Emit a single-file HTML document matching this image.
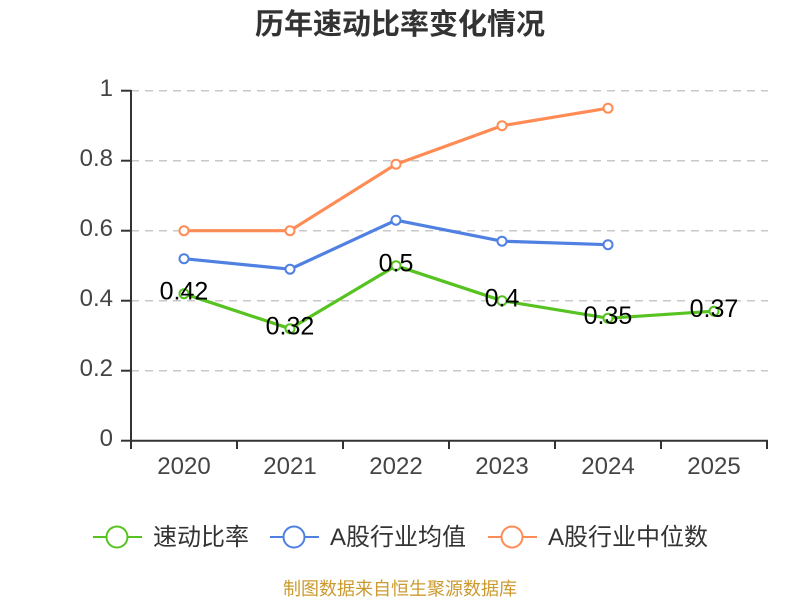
<!DOCTYPE html>
<html><head><meta charset="utf-8"><style>
html,body{margin:0;padding:0;background:#fff;}
svg{display:block;}
</style></head><body>
<svg width="800" height="600" viewBox="0 0 800 600" xmlns="http://www.w3.org/2000/svg">
<rect width="800" height="600" fill="#fff"/>
<text x="400" y="34" text-anchor="middle" font-family="Liberation Sans, Noto Sans CJK SC, sans-serif" font-size="29" font-weight="bold" fill="#333">历年速动比率变化情况</text>
<g stroke="#c8c8c8" stroke-width="1.5" stroke-dasharray="8 6">
<line x1="131" y1="90.7" x2="768" y2="90.7"/>
<line x1="131" y1="160.7" x2="768" y2="160.7"/>
<line x1="131" y1="230.7" x2="768" y2="230.7"/>
<line x1="131" y1="300.7" x2="768" y2="300.7"/>
<line x1="131" y1="370.7" x2="768" y2="370.7"/>
</g>
<g stroke="#333" stroke-width="2">
<line x1="131" y1="90" x2="131" y2="441"/>
<line x1="130" y1="440.7" x2="768" y2="440.7"/>
<line x1="121" y1="90.7" x2="131" y2="90.7"/>
<line x1="121" y1="160.7" x2="131" y2="160.7"/>
<line x1="121" y1="230.7" x2="131" y2="230.7"/>
<line x1="121" y1="300.7" x2="131" y2="300.7"/>
<line x1="121" y1="370.7" x2="131" y2="370.7"/>
<line x1="121" y1="440.7" x2="131" y2="440.7"/>
<line x1="131" y1="440" x2="131" y2="449"/>
<line x1="237" y1="440" x2="237" y2="449"/>
<line x1="343" y1="440" x2="343" y2="449"/>
<line x1="449" y1="440" x2="449" y2="449"/>
<line x1="555" y1="440" x2="555" y2="449"/>
<line x1="661" y1="440" x2="661" y2="449"/>
<line x1="767" y1="440" x2="767" y2="449"/>
</g>
<g font-family="Liberation Sans, sans-serif" font-size="24" fill="#444" text-anchor="end">
<text x="113" y="96">1</text>
<text x="113" y="166">0.8</text>
<text x="113" y="236">0.6</text>
<text x="113" y="306">0.4</text>
<text x="113" y="376">0.2</text>
<text x="113" y="446">0</text>
</g>
<g font-family="Liberation Sans, sans-serif" font-size="24" fill="#444" text-anchor="middle">
<text x="184" y="474">2020</text>
<text x="290" y="474">2021</text>
<text x="396" y="474">2022</text>
<text x="502" y="474">2023</text>
<text x="608" y="474">2024</text>
<text x="714" y="474">2025</text>
</g>
<g fill="none" stroke-width="3.2" stroke-linejoin="round">
<polyline stroke="#ff8c55" points="184,230.7 290,230.7 396,164.2 502,125.7 608,108.2"/>
<polyline stroke="#4f80e2" points="184,258.7 290,269.2 396,220.2 502,241.2 608,244.7"/>
<polyline stroke="#56c321" points="184,293.7 290,328.7 396,265.7 502,300.7 608,318.2 714,311.2"/>
</g>
<g fill="#fff" stroke-width="2">
<g stroke="#ff8c55">
<circle cx="184" cy="230.7" r="4.5"/><circle cx="290" cy="230.7" r="4.5"/><circle cx="396" cy="164.2" r="4.5"/><circle cx="502" cy="125.7" r="4.5"/><circle cx="608" cy="108.2" r="4.5"/>
</g>
<g stroke="#4f80e2">
<circle cx="184" cy="258.7" r="4.5"/><circle cx="290" cy="269.2" r="4.5"/><circle cx="396" cy="220.2" r="4.5"/><circle cx="502" cy="241.2" r="4.5"/><circle cx="608" cy="244.7" r="4.5"/>
</g>
<g stroke="#56c321">
<circle cx="184" cy="293.7" r="4.5"/><circle cx="290" cy="328.7" r="4.5"/><circle cx="396" cy="265.7" r="4.5"/><circle cx="502" cy="300.7" r="4.5"/><circle cx="608" cy="318.2" r="4.5"/><circle cx="714" cy="311.2" r="4.5"/>
</g>
</g>
<g font-family="Liberation Sans, sans-serif" font-size="25" fill="#000" text-anchor="middle">
<text x="184" y="299.5">0.42</text>
<text x="290" y="334.5">0.32</text>
<text x="396" y="271.5">0.5</text>
<text x="502" y="306.5">0.4</text>
<text x="608" y="324">0.35</text>
<text x="714" y="317">0.37</text>
</g>
<g stroke-width="2" fill="#fff">
<line x1="93" y1="537" x2="142" y2="537" stroke="#56c321"/>
<circle cx="117" cy="537" r="10.5" stroke="#56c321"/>
<line x1="270" y1="537" x2="319" y2="537" stroke="#4f80e2"/>
<circle cx="294" cy="537" r="10.5" stroke="#4f80e2"/>
<line x1="488" y1="537" x2="537" y2="537" stroke="#ff8c55"/>
<circle cx="512" cy="537" r="10.5" stroke="#ff8c55"/>
</g>
<g font-family="Liberation Sans, Noto Sans CJK SC, sans-serif" font-size="24" fill="#333">
<text x="153" y="545">速动比率</text>
<text x="330" y="545">A股行业均值</text>
<text x="548" y="545">A股行业中位数</text>
</g>
<text x="400" y="595" text-anchor="middle" font-family="Liberation Sans, Noto Sans CJK SC, sans-serif" font-size="18" fill="#cc9a2e">制图数据来自恒生聚源数据库</text>
</svg>
</body></html>
